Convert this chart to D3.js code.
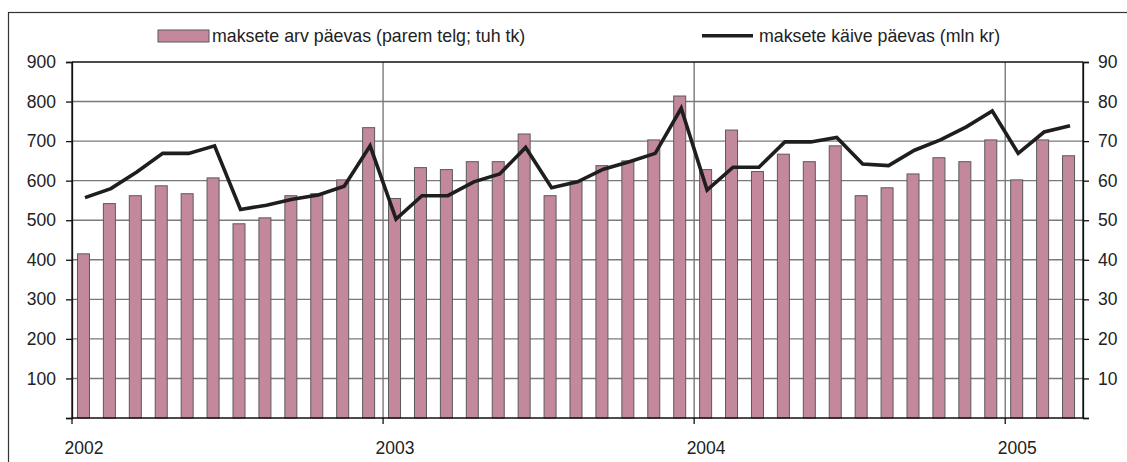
<!DOCTYPE html>
<html><head><meta charset="utf-8">
<script src="https://cdn.jsdelivr.net/npm/d3@7"></script>
<style>
body{margin:0;background:#fff;}
text{font-family:"Liberation Sans",Arial,sans-serif;fill:#222;}
</style></head>
<body><svg id="c" width="1127" height="462"></svg>
<script>
const months = [];
for (let y = 2002; y <= 2005; y++) for (let m = 1; m <= 12; m++) { if (y === 2005 && m > 3) break; months.push(y + "-" + String(m).padStart(2, "0")); }
// maksete arv päevas (parem telg; tuh tk)
const countValues = [41.5,54.2,56.2,58.7,56.7,60.7,49.1,50.6,56.2,56.7,60.2,73.4,
  55.5,63.3,62.8,64.8,64.8,71.8,56.2,59.7,63.8,65.0,70.3,81.4,
  62.8,72.8,62.3,66.7,64.8,68.8,56.2,58.2,61.7,65.8,64.8,70.3,
  60.2,70.3,66.3];
// maksete käive päevas (mln kr)
const turnoverValues = [557,580,622,669,669,688,527,538,553,564,586,688,
  503,562,562,597,617,684,582,597,629,648,669,783,
  576,634,634,698,698,709,642,638,677,703,736,776,
  669,723,739];
const yearLabels = ["2002","2003","2004","2005"];
const leftTicks = [100,200,300,400,500,600,700,800,900];
const rightTicks = [10,20,30,40,50,60,70,80,90];
const legendLabels = ["maksete arv päevas (parem telg; tuh tk)","maksete käive päevas (mln kr)"];

const svg = d3.select("#c");
const L = 72, R = 1083, T = 62, B = 418;
const x = d3.scaleBand().domain(months).range([L, R]).padding(0);
const yL = d3.scaleLinear().domain([0, 900]).range([B, T]);
const yR = d3.scaleLinear().domain([0, 90]).range([B, T]);
const bw = x.bandwidth();

// outer frame
svg.append("rect").attr("x", 8.5).attr("y", 12.5).attr("width", 1130).attr("height", 470)
  .attr("fill", "none").attr("stroke", "#333").attr("stroke-width", 1.2);

// horizontal gridlines
svg.append("g").selectAll("line").data(leftTicks.filter(d => d < 900)).join("line")
  .attr("x1", L).attr("x2", R).attr("y1", d => yL(d)).attr("y2", d => yL(d))
  .attr("stroke", "#7a7a7a").attr("stroke-width", 1.4);

// vertical year gridlines
const yearStarts = yearLabels.map(y => y + "-01");
svg.append("g").selectAll("line").data(yearStarts.slice(1)).join("line")
  .attr("x1", d => x(d)).attr("x2", d => x(d)).attr("y1", T).attr("y2", B)
  .attr("stroke", "#7a7a7a").attr("stroke-width", 1.4);

// bars
svg.append("g").selectAll("rect").data(countValues).join("rect")
  .attr("x", (d, i) => x(months[i]) + bw / 2 - 7.5)
  .attr("width", 12)
  .attr("y", d => yR(d))
  .attr("height", d => B - yR(d))
  .attr("fill", "#c4889c").attr("stroke", "#5a5a5a").attr("stroke-width", 1);

// line
const line = d3.line().x((d, i) => x(months[i]) + bw / 2).y(d => yL(d));
svg.append("path").datum(turnoverValues).attr("d", line)
  .attr("fill", "none").attr("stroke", "#1e1e1e").attr("stroke-width", 3.6).attr("stroke-linejoin", "miter");

// plot frame lines
svg.append("line").attr("x1", L).attr("x2", R).attr("y1", T).attr("y2", T).attr("stroke", "#111").attr("stroke-width", 1.6);
svg.append("line").attr("x1", L).attr("x2", R).attr("y1", B).attr("y2", B).attr("stroke", "#111").attr("stroke-width", 1.3);
svg.append("line").attr("x1", L).attr("x2", L).attr("y1", T).attr("y2", B).attr("stroke", "#111").attr("stroke-width", 1.3);
svg.append("line").attr("x1", R).attr("x2", R).attr("y1", T).attr("y2", B).attr("stroke", "#111").attr("stroke-width", 1.3);

// left axis
const gl = svg.append("g").attr("transform", `translate(${L},0)`)
  .call(d3.axisLeft(yL).tickValues([0, ...leftTicks]).tickSize(6).tickPadding(10).tickFormat(d => d === 0 ? "" : d));
// right axis
const gr = svg.append("g").attr("transform", `translate(${R},0)`)
  .call(d3.axisRight(yR).tickValues([0, ...rightTicks]).tickSize(6).tickPadding(9).tickFormat(d => d === 0 ? "" : d));
[gl, gr].forEach(g => {
  g.select(".domain").attr("stroke", "#111").attr("stroke-width", 1.3);
  g.selectAll(".tick line").attr("stroke", "#111").attr("stroke-width", 1.3);
  g.selectAll(".tick text").style("font-size", "17.5px").attr("fill", "#222");
});

// x axis year ticks
const gx = svg.append("g");
gx.selectAll("line").data(yearStarts).join("line")
  .attr("x1", d => x(d)).attr("x2", d => x(d)).attr("y1", B).attr("y2", B + 6)
  .attr("stroke", "#111").attr("stroke-width", 1.3);
gx.selectAll("text").data(yearLabels).join("text")
  .attr("x", d => x(d + "-01") + bw / 2 - 1).attr("y", 454)
  .attr("text-anchor", "middle").style("font-size", "17.5px").text(d => d);

// legend
const lg = svg.append("g");
lg.append("rect").attr("x", 158).attr("y", 30).attr("width", 51).attr("height", 12)
  .attr("fill", "#c4889c").attr("stroke", "#5a5a5a").attr("stroke-width", 1);
lg.append("text").attr("x", 212).attr("y", 42).style("font-size", "17.8px").text(legendLabels[0]);
lg.append("line").attr("x1", 702).attr("x2", 753).attr("y1", 35.7).attr("y2", 35.7)
  .attr("stroke", "#1e1e1e").attr("stroke-width", 3.6);
lg.append("text").attr("x", 759).attr("y", 42).style("font-size", "17.8px").text(legendLabels[1]);
</script></body></html>
